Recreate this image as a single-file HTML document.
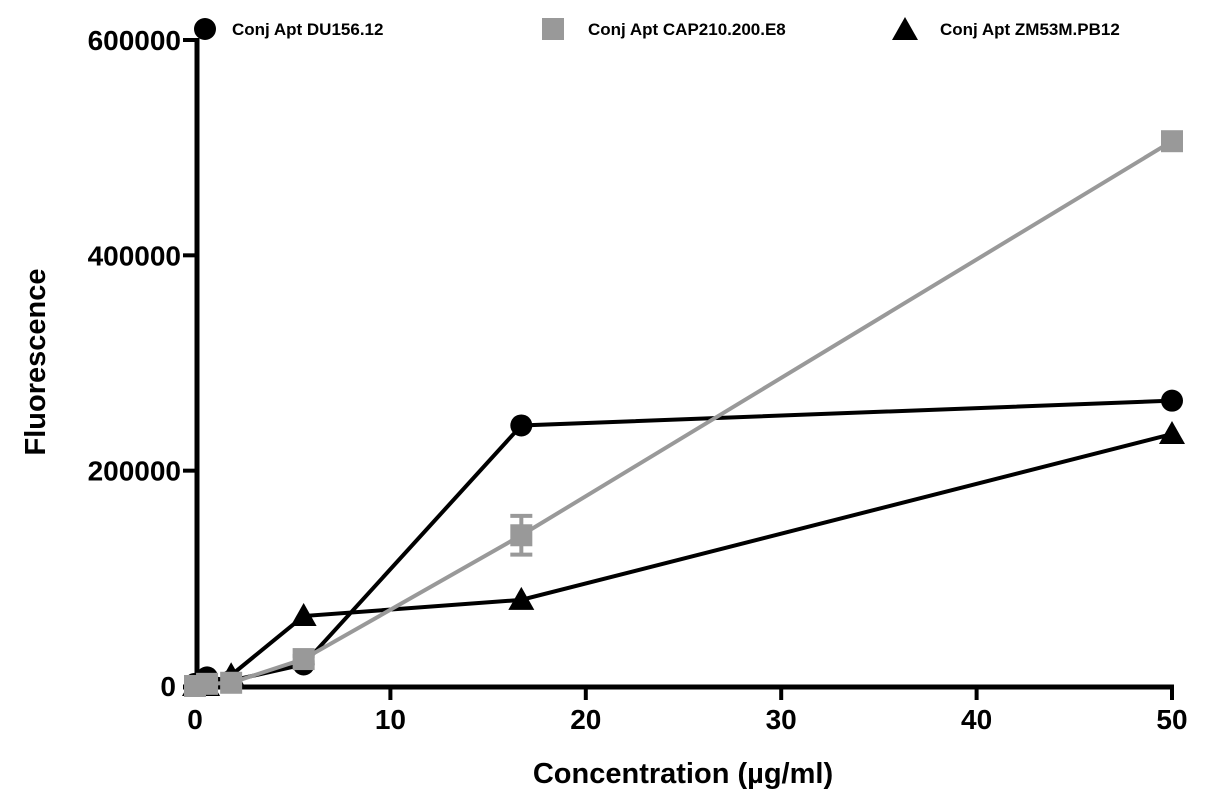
<!DOCTYPE html>
<html><head><meta charset="utf-8"><style>
html,body{margin:0;padding:0;background:#fff;}
svg{display:block;font-family:"Liberation Sans",Arial,sans-serif;font-weight:bold;}
</style></head><body>
<svg id="chart" width="1205" height="809" viewBox="0 0 1205 809">
<g id="axes"></g><g id="series"></g><g id="legend"></g>
</svg>
<script>
const xVals=[0,0.617,1.85,5.56,16.7,50];
const duVals=[2000,8000,5000,20000,242000,265000];
const capVals=[0,2000,3000,25000,140000,506000];
const capErr=[0,0,0,3000,18000,5000];
const zmVals=[0,0,10000,65000,80000,234000];
const xTicks=[0,10,20,30,40,50];
const yTicks=[0,200000,400000,600000];
const NS='http://www.w3.org/2000/svg';
const X=v=>195+v*(1172-195)/50;
const Y=v=>686-v*(686-40)/600000;
function mk(p,t,a){const e=document.createElementNS(NS,t);for(const k in a)e.setAttribute(k,a[k]);p.appendChild(e);return e;}
const ax=document.getElementById('axes'),sr=document.getElementById('series'),lg=document.getElementById('legend');
let yl=mk(ax,'line',{x1:197,y1:38,x2:197,y2:673,stroke:'#000','stroke-width':5});

let xl=mk(ax,'line',{x1:183,y1:687,x2:1174,y2:687,stroke:'#000','stroke-width':5});

yTicks.forEach(v=>{
 if(v>0){mk(ax,'line',{x1:183,y1:Y(v),x2:199,y2:Y(v),stroke:'#000','stroke-width':4});}
 const t=mk(ax,'text',{x:v===0?176:181,y:Y(v)+10,'text-anchor':'end','font-size':28});t.textContent=v;
 
});
xTicks.forEach(v=>{
 if(v>0)mk(ax,'line',{x1:X(v),y1:687,x2:X(v),y2:700,stroke:'#000','stroke-width':4});
 const t=mk(ax,'text',{x:X(v),y:729,'text-anchor':'middle','font-size':28});t.textContent=v;
 
});
let xt=mk(ax,'text',{x:683,y:783,'text-anchor':'middle','font-size':29});xt.textContent='Concentration (µg/ml)';

let yt=mk(ax,'text',{x:0,y:0,'text-anchor':'middle','font-size':29,transform:'translate(45,362) rotate(-90)'});yt.textContent='Fluorescence';

function marker(g,type,x,y,col){
 if(type==='c')return mk(g,'circle',{cx:x,cy:y,r:11,fill:col});
 if(type==='s')return mk(g,'rect',{x:x-11,y:y-11,width:22,height:22,fill:col});
 return mk(g,'polygon',{points:`${x},${y-13} ${x-13},${y+10} ${x+13},${y+10}`,fill:col});
}
function series(name,vals,col,type,err){
 const g=mk(sr,'g',{});
 
 mk(g,'polyline',{points:xVals.map((x,i)=>X(x)+','+Y(vals[i])).join(' '),fill:'none',stroke:col,'stroke-width':4});
 xVals.forEach((x,i)=>{
  if(err&&err[i]){mk(g,'line',{x1:X(x),y1:Y(vals[i]-err[i]),x2:X(x),y2:Y(vals[i]+err[i]),stroke:col,'stroke-width':4});
   [vals[i]-err[i],vals[i]+err[i]].forEach(e=>mk(g,'line',{x1:X(x)-11,y1:Y(e),x2:X(x)+11,y2:Y(e),stroke:col,'stroke-width':4}));}
  const m=marker(g,type,X(x),Y(vals[i]),col);
  
 });
}
series('series-du156-12',duVals,'#000','c');
series('series-zm53m-pb12',zmVals,'#000','t');
series('series-cap210-200-e8',capVals,'#999','s',capErr);
const legs=[['Conj Apt DU156.12','#000','c',205,232],['Conj Apt CAP210.200.E8','#999','s',553,588],['Conj Apt ZM53M.PB12','#000','t',905,940]];
legs.forEach(l=>{
 const g=mk(lg,'g',{});
 
 marker(g,l[2],l[3],l[2]==='t'?30:29,l[1]);
 const t=mk(g,'text',{x:l[4],y:35,'font-size':17});t.textContent=l[0];
});
</script>
</body></html>
